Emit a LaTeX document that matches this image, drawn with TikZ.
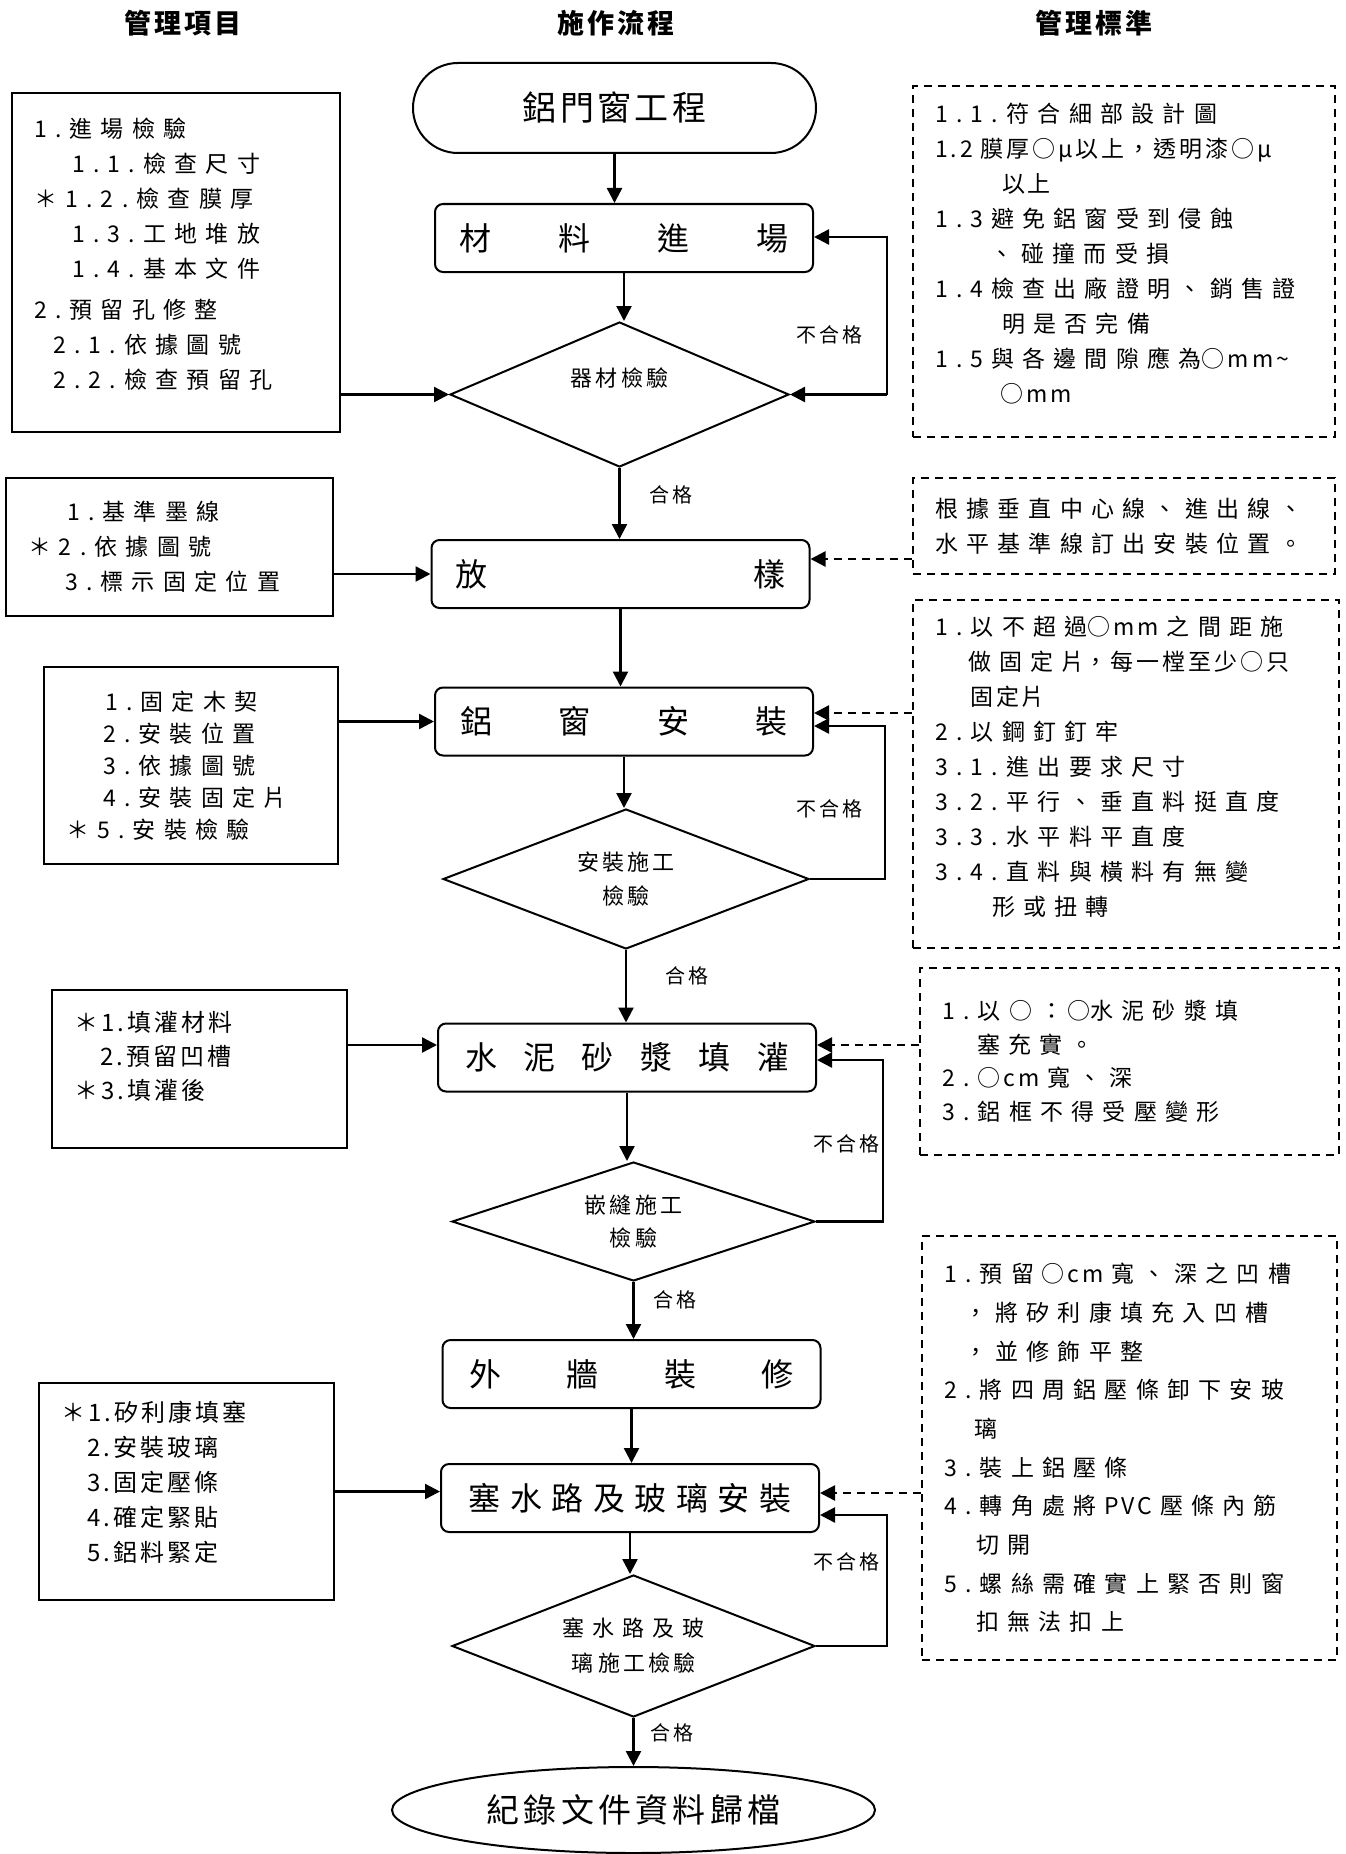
\documentclass[tikz,border=0pt]{standalone}
\usepackage{fontspec}
\setmainfont{Noto Sans CJK TC}
\newfontfamily\widecjk[LetterSpace=36]{Noto Sans CJK TC}
\newfontfamily\tightcjk[LetterSpace=13]{Noto Sans CJK TC}
\newfontfamily\headcjk[LetterSpace=10]{Noto Sans CJK TC}
\usetikzlibrary{arrows.meta, shapes.geometric, positioning}

\newcommand{\tight}[1]{{\tightcjk #1}}
\newcommand{\lift}[1]{\\[#1]\mbox{}}

\tikzset{
  procbox/.style={draw, rounded corners=8pt, line width=2pt, minimum width=378pt,
    minimum height=68pt, inner sep=0pt, font=\fontsize{32}{38}\selectfont},
  decision/.style={draw, diamond, line width=2pt, shape aspect=3, inner sep=0pt,
    align=center, font=\fontsize{22}{34}\selectfont\addfontfeature{LetterSpace=15}},
  itembox/.style={draw, line width=2pt, inner xsep=22pt, inner ysep=0pt, align=left,
    font=\fontsize{23}{35}\selectfont\widecjk},
  normbox/.style={itembox, dash pattern=on 8pt off 6pt},
  lbl/.style={inner sep=0pt, font=\fontsize{20}{24}\selectfont\addfontfeature{LetterSpace=15}},
  title/.style={font=\fontsize{27}{32}\selectfont\headcjk\bfseries},
  dashline/.style={dash pattern=on 8pt off 6pt},
}

\begin{document}
\begin{tikzpicture}[->, >={Triangle[length=15pt, width=15pt]}, x=1pt, y=-1pt, line width=2.4pt]
  \useasboundingbox (0,0) rectangle (1345,1854);

  \node[title] (colitem) at (183,23) {管理項目};
  \node[title] (colflow) at (616,23) {施作流程};
  \node[title] (colnorm) at (1094,23) {管理標準};

  \node[draw, rounded corners=45pt, line width=2pt, minimum width=403pt, minimum height=90pt,
    font=\fontsize{34}{40}\selectfont\addfontfeature{LetterSpace=10}] (start) at (614.5,108) {鋁門窗工程};
  \node[procbox] (material) at (624,238) {\makebox[329pt][s]{材\hfill 料\hfill 進\hfill 場}};
  \node[decision, minimum width=339pt, minimum height=145pt] (insp1) at (619.5,394.5) {器材檢驗\\\mbox{}};
  \node[procbox] (layout) at (620.5,574) {\makebox[330pt][s]{放\hfill 樣}};
  \node[procbox] (install) at (624,721.5) {\makebox[327pt][s]{鋁\hfill 窗\hfill 安\hfill 裝}};
  \node[decision, minimum width=366pt, minimum height=140pt] (insp2) at (626,879) {安裝施工\\檢驗};
  \node[procbox] (grout) at (627,1057.5) {\makebox[324pt][s]{水\hfill 泥\hfill 砂\hfill 漿\hfill 填\hfill 灌}};
  \node[decision, minimum width=363pt, minimum height=119pt,
    font=\fontsize{22}{33}\selectfont\addfontfeature{LetterSpace=15}] (insp3) at (633.5,1221.5) {嵌縫施工\\檢驗};
  \node[procbox] (facade) at (631.5,1374) {\makebox[324pt][s]{外\hfill 牆\hfill 裝\hfill 修}};
  \node[procbox] (glazing) at (630,1498) {\makebox[323pt][s]{塞\hfill 水\hfill 路\hfill 及\hfill 玻\hfill 璃\hfill 安\hfill 裝}};
  \node[decision, minimum width=363pt, minimum height=142pt,
    font=\fontsize{22}{35}\selectfont\addfontfeature{LetterSpace=15}] (insp4) at (633.5,1646) {{\widecjk 塞水路及玻}\\璃\hspace{5pt}施工檢驗};
  \node[draw, ellipse, line width=2pt, minimum width=483pt, minimum height=86pt, inner sep=0pt,
    font=\fontsize{33}{38}\selectfont\addfontfeature{LetterSpace=13}] (archive) at (633.5,1810) {紀錄文件資料歸檔};

  \node[itembox, text width=284pt, minimum height=339pt] (item1) at (176,262.5) {%
    1.進場檢驗\\
    \hspace*{38pt}1.1.檢查尺寸\\
    ＊1.2.檢查膜厚\\
    \hspace*{38pt}1.3.工地堆放\\
    \hspace*{38pt}1.4.基本文件\\[6pt]
    2.預留孔修整\\
    \hspace*{19pt}2.1.依據圖號\\
    \hspace*{19pt}2.2.檢查預留孔\lift{-17pt}};
  \node[itembox, text width=283pt, minimum height=138pt] (item2) at (169.5,547) {%
    \hspace*{39pt}1.基準墨線\\
    ＊\hspace{8pt}2.依據圖號\\
    \hspace*{37pt}3.標示固定位置};
  \node[itembox, text width=250pt, minimum height=197pt,
    font=\fontsize{23}{32}\selectfont\widecjk] (item3) at (191,765.5) {%
    \hspace*{39pt}1.固定木契\\
    \hspace*{37pt}2.安裝位置\\
    \hspace*{37pt}3.依據圖號\\
    \hspace*{37pt}4.安裝固定片\\
    ＊5.安裝檢驗};
  \node[itembox, text width=251pt, minimum height=158pt,
    font=\fontsize{24}{34}\selectfont\tightcjk] (item4) at (199.5,1069) {%
    ＊1.填灌材料\\
    \hspace*{26pt}2.預留凹槽\\
    ＊3.填灌後\lift{-6pt}};
  \node[itembox, text width=251pt, minimum height=217pt,
    font=\fontsize{24}{35}\selectfont\tightcjk] (item5) at (186.5,1491.5) {%
    ＊1.矽利康填塞\\
    \hspace*{26pt}2.安裝玻璃\\
    \hspace*{26pt}3.固定壓條\\
    \hspace*{26pt}4.確定緊貼\\
    \hspace*{26pt}5.鋁料緊定\lift{-15pt}};

  \node[normbox, text width=378pt, minimum height=351pt] (norm1) at (1124,261.5) {%
    1.1.符合細部設計圖\\
    \tight{1.2~膜厚○μ以上，透明漆○μ}\\
    \hspace*{67pt}\tight{以上}\\
    1.3~避免鋁窗受到侵蝕\\
    \hspace*{55pt}、碰撞而受損\\
    1.4~檢查出廠證明、銷售證\\
    \hspace*{67pt}明是否完備\\
    1.5~與各邊間隙應為\tight{○mm\textasciitilde}\\
    \hspace*{65pt}\tight{○mm}\lift{-17pt}};
  \node[normbox, text width=378pt, minimum height=96pt] (norm2) at (1124,526) {%
    根據垂直中心線、進出線、\\
    水平基準線訂出安裝位置。};
  \node[normbox, text width=382pt, minimum height=348pt] (norm3) at (1126,774) {%
    1.以不超過\tight{○mm~}之間距施\\
    \hspace*{33pt}做固定片\tight{，每一樘至少○只}\\
    \hspace*{35pt}\tight{固定片}\\
    2.以鋼釘釘牢\\
    3.1.進出要求尺寸\\
    3.2.平行、垂直料挺直度\\
    3.3.水平料平直度\\
    3.4.直料與橫料有無變\\
    \hspace*{57pt}形或扭轉\lift{-19pt}};
  \node[normbox, text width=375pt, minimum height=187pt,
    font=\fontsize{23}{33.5}\selectfont\widecjk] (norm4) at (1129.5,1061.5) {%
    1.以○：\hspace{4pt}\tight{○}水泥砂漿填\\
    \hspace*{35pt}塞充實。\\
    2.\hspace{8pt}\tight{○cm~}寬、深\\
    3.鋁框不得受壓變形};
  \node[normbox, text width=371pt, minimum height=424pt,
    font=\fontsize{23}{38.7}\selectfont\widecjk] (norm5) at (1129.5,1448) {%
    1.預留\hspace{8pt}\tight{○cm~}寬、深之凹槽\\
    \hspace*{20pt}，將矽利康填充入凹槽\\
    \hspace*{20pt}，並修飾平整\\
    2.將四周鋁壓條卸下安玻\\
    \hspace*{30pt}璃\\
    3.裝上鋁壓條\\
    4.轉角處將~\tight{PVC}~壓條內筋\\
    \hspace*{32pt}切開\\
    5.螺絲需確實上緊否則窗\\
    \hspace*{32pt}扣無法扣上};

  \draw (start.south) -- (start.south |- material.north);
  \draw (material.south) -- (material.south |- insp1.north);
  \draw (insp1.south) -- node[lbl, right=29pt, pos=.38] {合格} (insp1.south |- layout.north);
  \draw (layout.south) -- (layout.south |- install.north);
  \draw (install.south) -- (install.south |- insp2.north);
  \draw (insp2.south) -- node[lbl, right=38pt, pos=.35] {合格} (insp2.south |- grout.north);
  \draw (grout.south) -- (grout.south |- insp3.north);
  \draw (insp3.south) -- node[lbl, right=19pt, pos=.32] {合格} (insp3.south |- facade.north);
  \draw (facade.south) -- (facade.south |- glazing.north);
  \draw (glazing.south) -- (glazing.south |- insp4.north);
  \draw (insp4.south) -- node[lbl, right=16pt, pos=.3] {合格} (insp4.south |- archive.north);

  \draw (item1.east |- insp1.west) -- (insp1.west);
  \draw (item2.east |- layout.west) -- (layout.west);
  \draw (item3.east |- install.west) -- (install.west);
  \draw (item4.east |- 0,1045) -- (grout.west |- 0,1045);
  \draw (item5.east) -- (item5.east -| glazing.west);

  \draw[dashline] (norm2.west |- 0,559) -- (layout.east |- 0,559);
  \draw[dashline] (norm3.west |- 0,713) -- (install.east |- 0,713);
  \draw[dashline] (norm4.west |- 0,1045) -- (grout.east |- 0,1045);
  \draw[dashline] (norm5.west |- 0,1493) -- (glazing.east |- 0,1493);

  \coordinate (ret1) at (insp1.east -| 887,0);
  \draw (ret1) |- node[lbl, left=23pt, pos=.19] {不合格} (material.east |- 0,237);
  \draw (ret1) -- (insp1.east);
  \draw (insp2.east) -- (insp2.east -| 885,0) |- node[lbl, left=21pt, pos=.23] {不合格} (install.east |- 0,726);
  \draw (insp3.east) -- (insp3.east -| 883,0) |- node[lbl, left=2pt, pos=.24] {不合格} (grout.east |- 0,1060);
  \draw (insp4.east) -- (insp4.east -| 887,0) |- node[lbl, left=6pt, pos=.32] {不合格} (glazing.east |- 0,1515);
\end{tikzpicture}
\end{document}
